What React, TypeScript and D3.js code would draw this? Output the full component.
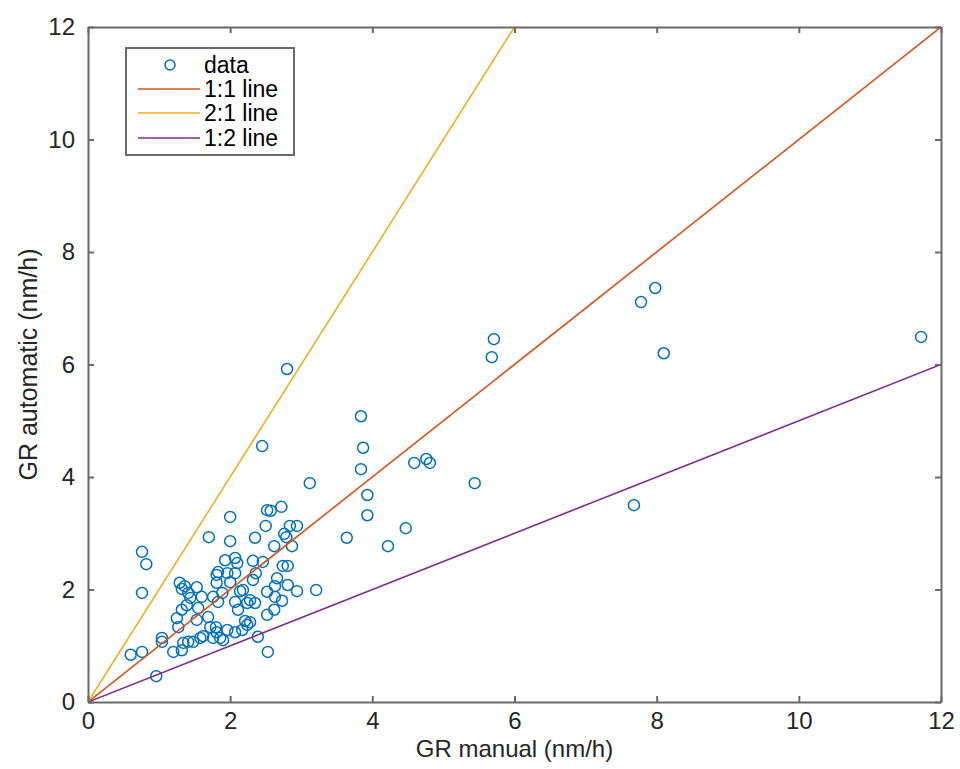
import React, { useEffect, useRef } from 'react';
import * as d3 from 'd3';

// GR values (manual vs automatic, nm/h)
const grManual = [
  0.60, 0.76, 0.96, 1.04, 1.04, 0.76, 0.82, 0.76, 2.80, 2.45, 3.84, 3.87, 3.84, 3.93, 3.93, 3.64,
  4.22, 4.47, 4.59, 4.76, 4.81, 5.44, 5.68, 5.71, 7.78, 7.98, 8.10, 7.68, 11.72, 3.12, 3.21, 2.94,
  2.84, 2.87, 2.53, 2.39, 1.70, 2.00, 2.00, 2.35, 2.52, 2.57, 2.72, 2.50, 2.76, 2.79, 2.62, 1.93,
  2.07, 2.10, 2.32, 2.46, 2.74, 2.81, 2.94, 2.81, 2.66, 2.63, 2.52, 2.63, 2.73, 2.52, 2.62, 2.36,
  2.32, 2.24, 2.07, 2.11, 2.21, 2.24, 2.17, 1.96, 1.90, 1.96, 2.07, 1.83, 2.14, 1.89, 1.29, 1.36,
  1.32, 1.53, 1.41, 1.44, 1.60, 1.39, 1.32, 1.55, 1.25, 1.27, 1.53, 1.69, 1.81, 1.81, 1.76, 1.58,
  1.62, 1.72, 1.81, 1.86, 1.20, 1.32, 1.48, 1.76, 1.34, 2.00, 1.83, 2.18, 2.28, 2.07, 1.41, 2.28,
  2.35, 1.80,
];
const grAutomatic = [
  0.84, 0.89, 0.46, 1.14, 1.07, 2.67, 2.45, 1.94, 5.92, 4.55, 5.08, 4.52, 4.14, 3.68, 3.32, 2.92,
  2.77, 3.09, 4.25, 4.32, 4.25, 3.89, 6.13, 6.45, 7.11, 7.36, 6.20, 3.50, 6.49, 3.89, 1.99, 3.13,
  3.13, 2.77, 0.89, 1.16, 2.93, 3.29, 2.86, 2.92, 3.41, 3.40, 3.47, 3.13, 2.99, 2.93, 2.77, 2.52,
  2.56, 2.47, 2.51, 2.49, 2.42, 2.42, 1.97, 2.08, 2.20, 2.06, 1.96, 1.87, 1.80, 1.55, 1.64, 2.29,
  2.17, 1.76, 1.78, 1.64, 1.44, 1.37, 1.28, 1.28, 1.10, 2.29, 2.29, 2.31, 1.97, 1.94, 2.12, 2.06,
  2.01, 2.04, 1.94, 1.85, 1.87, 1.72, 1.64, 1.67, 1.49, 1.33, 1.46, 1.51, 2.26, 2.12, 1.87, 1.14,
  1.17, 1.33, 1.24, 1.14, 0.89, 0.92, 1.07, 1.14, 1.05, 2.13, 1.78, 1.99, 1.81, 1.24, 1.07, 1.42,
  1.76, 1.33,
];

const ticks = [0, 2, 4, 6, 8, 10, 12];
// reference lines: label, slope (automatic = slope * manual)
const refNames = ['1:1 line', '2:1 line', '1:2 line'];
const refSlopes = [1, 2, 0.5];
const refColors = ['#D95319', '#EDB120', '#7E2F8E'];
const dataColor = '#0072BD';

const App = () => {
  const svgRef = useRef<SVGSVGElement>(null);

  useEffect(() => {
    document.body.style.margin = '0';
    const svg = d3.select(svgRef.current);
    const width = 960;
    const height = 769;
    const margin = { top: 27, right: 19, bottom: 67, left: 88 };
    const font = 'Helvetica, "Liberation Sans", Arial, sans-serif';
    const axisColor = '#6a6a6a';

    svg.attr('width', width).attr('height', height);

    const x = d3.scaleLinear().domain([0, 12]).range([margin.left, width - margin.right]);
    const y = d3.scaleLinear().domain([0, 12]).range([height - margin.bottom, margin.top]);

    const clip = svg.append('clipPath').attr('id', 'plot-clip');
    clip.append('rect')
      .attr('x', x(0)).attr('y', y(12))
      .attr('width', x(12) - x(0)).attr('height', y(0) - y(12));

    // scatter
    const pts = grManual.map((m, i) => ({ m, a: grAutomatic[i] }));
    svg.append('g')
      .selectAll('circle')
      .data(pts)
      .enter()
      .append('circle')
      .attr('cx', d => x(d.m))
      .attr('cy', d => y(d.a))
      .attr('r', 5.5)
      .attr('fill', 'none')
      .attr('stroke', dataColor)
      .attr('stroke-width', 1.5);

    // 1:1, 2:1, 1:2 lines
    const line = d3.line<[number, number]>().x(d => x(d[0])).y(d => y(d[1]));
    refSlopes.forEach((s, i) => {
      const xEnd = Math.min(12, 12 / s);
      svg.append('path')
        .attr('d', line([[0, 0], [xEnd, xEnd * s]]))
        .attr('clip-path', 'url(#plot-clip)')
        .attr('fill', 'none')
        .attr('stroke', refColors[i])
        .attr('stroke-width', 1.6);
    });

    // axes with inward ticks on all four sides
    const styleAxis = g => {
      g.select('.domain').attr('stroke', axisColor).attr('stroke-width', 2);
      g.selectAll('.tick line').attr('stroke', axisColor).attr('stroke-width', 2);
      g.selectAll('.tick text')
        .attr('fill', '#262626')
        .style('font-family', font)
        .style('font-size', '24px');
    };

    const bottom = svg.append('g')
      .attr('transform', `translate(0,${y(0)})`)
      .call(d3.axisBottom(x).tickValues(ticks).tickSize(-6).tickSizeOuter(0).tickPadding(10));
    styleAxis(bottom);

    const top = svg.append('g')
      .attr('transform', `translate(0,${y(12)})`)
      .call(d3.axisTop(x).tickValues(ticks).tickSize(-6).tickSizeOuter(0).tickFormat(() => ''));
    styleAxis(top);

    const left = svg.append('g')
      .attr('transform', `translate(${x(0)},0)`)
      .call(d3.axisLeft(y).tickValues(ticks).tickSize(-6).tickSizeOuter(0).tickPadding(13));
    styleAxis(left);

    const right = svg.append('g')
      .attr('transform', `translate(${x(12)},0)`)
      .call(d3.axisRight(y).tickValues(ticks).tickSize(-6).tickSizeOuter(0).tickFormat(() => ''));
    styleAxis(right);

    // axis labels
    svg.append('text')
      .attr('x', (x(0) + x(12)) / 2)
      .attr('y', 757)
      .attr('text-anchor', 'middle')
      .attr('fill', '#262626')
      .style('font-family', font)
      .style('font-size', '24px')
      .text('GR manual (nm/h)');

    svg.append('text')
      .attr('transform', `translate(37,${(y(0) + y(12)) / 2}) rotate(-90)`)
      .attr('text-anchor', 'middle')
      .attr('fill', '#262626')
      .style('font-family', font)
      .style('font-size', '25px')
      .text('GR automatic (nm/h)');

    // legend
    const lg = svg.append('g').attr('transform', 'translate(126,48)');
    lg.append('rect')
      .attr('width', 168)
      .attr('height', 107)
      .attr('fill', '#fff')
      .attr('stroke', axisColor)
      .attr('stroke-width', 2);

    const rowY = [17, 41, 65, 90];
    lg.append('circle')
      .attr('cx', 44).attr('cy', rowY[0])
      .attr('r', 5).attr('fill', 'none')
      .attr('stroke', dataColor).attr('stroke-width', 1.5);
    const labels = ['data', ...refNames];
    refNames.forEach((n, i) => {
      lg.append('line')
        .attr('x1', 12).attr('x2', 74)
        .attr('y1', rowY[i + 1]).attr('y2', rowY[i + 1])
        .attr('stroke', refColors[i]).attr('stroke-width', 1.6);
    });
    lg.selectAll('.lbl')
      .data(labels)
      .enter()
      .append('text')
      .attr('class', 'lbl')
      .attr('x', 78)
      .attr('y', (d, i) => rowY[i])
      .attr('dy', '0.33em')
      .attr('fill', '#000')
      .style('font-family', font)
      .style('font-size', '23px')
      .text(d => d);

    return () => { svg.selectAll('*').remove(); };
  }, []);

  return <svg ref={svgRef} style={{ display: 'block' }}></svg>;
};

export default App;
